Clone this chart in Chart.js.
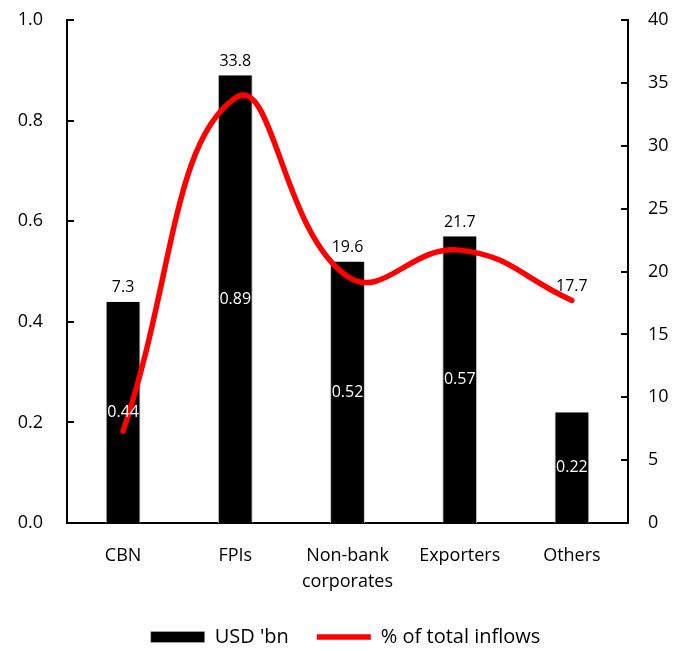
<!DOCTYPE html>
<html>
<head>
<meta charset="utf-8">
<script src="https://cdn.jsdelivr.net/npm/chart.js@4.4.1/dist/chart.umd.min.js"></script>
<style>
    html, body { margin: 0; padding: 0; background: #fff; }
    #wrap { width: 691px; height: 651px; }
</style>
</head>
<body>
<div id="wrap"><canvas id="inflowChart"></canvas></div>
<script>
// Chart data
const categories = ['CBN', 'FPIs', ['Non-bank', 'corporates'], 'Exporters', 'Others'];
const usdBn = [0.44, 0.89, 0.52, 0.57, 0.22];
const shareOfInflows = [7.3, 33.8, 19.6, 21.7, 17.7];
const leftTicks = [0, 0.2, 0.4, 0.6, 0.8, 1.0];
const rightTicks = [0, 5, 10, 15, 20, 25, 30, 35, 40];

const FONT = "'Open Sans', 'Noto Sans', sans-serif";

// Inside tick marks on both value axes
const innerTicks = {
    id: 'innerTicks',
    afterDraw(chart) {
        const ctx = chart.ctx;
        const area = chart.chartArea;
        ctx.save();
        ctx.strokeStyle = '#000';
        ctx.lineWidth = 2;
        chart.scales.y.ticks.forEach((t, i) => {
            const y = Math.round(chart.scales.y.getPixelForTick(i));
            ctx.beginPath();
            ctx.moveTo(area.left, y);
            ctx.lineTo(area.left + 7, y);
            ctx.stroke();
        });
        chart.scales.y1.ticks.forEach((t, i) => {
            const y = Math.round(chart.scales.y1.getPixelForTick(i));
            ctx.beginPath();
            ctx.moveTo(area.right - 7, y);
            ctx.lineTo(area.right, y);
            ctx.stroke();
        });
        ctx.restore();
    }
};

// Value labels: bar values inside bars, percentages above
const valueLabels = {
    id: 'valueLabels',
    afterDatasetsDraw(chart) {
        const ctx = chart.ctx;
        const barMeta = chart.getDatasetMeta(0);
        const lineMeta = chart.getDatasetMeta(1);
        ctx.save();
        ctx.font = '16px ' + FONT;
        ctx.textAlign = 'center';
        ctx.textBaseline = 'middle';
        barMeta.data.forEach((bar, i) => {
            ctx.fillStyle = '#fff';
            ctx.fillText(usdBn[i].toFixed(2), bar.x, (bar.y + bar.base) / 2);
            const pt = lineMeta.data[i];
            const top = Math.min(bar.y, pt.y);
            ctx.fillStyle = '#000';
            ctx.fillText(shareOfInflows[i].toFixed(1), bar.x, top - 14);
        });
        ctx.restore();
    }
};

// keep tick padding from pushing the plot area down
function noEdgePadding(s) {
    s.paddingTop = 0;
    s.paddingBottom = 0;
}

const ctx = document.getElementById('inflowChart').getContext('2d');
new Chart(ctx, {
    type: 'bar',
    data: {
        labels: categories,
        datasets: [{
            label: "USD 'bn",
            data: usdBn,
            backgroundColor: '#000',
            borderColor: '#bdbdbd',
            borderWidth: { left: 1, right: 1, top: 0, bottom: 0 },
            barPercentage: 0.31,
            categoryPercentage: 1,
            pointStyle: 'rect',
            yAxisID: 'y',
            order: 2
        }, {
            type: 'line',
            label: '% of total inflows',
            data: shareOfInflows,
            borderColor: '#ff0000',
            backgroundColor: '#ff0000',
            borderWidth: 5.5,
            borderCapStyle: 'round',
            tension: 0.45,
            pointRadius: 0,
            pointStyle: 'line',
            yAxisID: 'y1',
            order: 1
        }]
    },
    options: {
        responsive: true,
        maintainAspectRatio: false,
        animation: false,
        layout: { padding: { top: 20, bottom: -6, left: 0, right: 0 } },
        plugins: {
            legend: {
                position: 'bottom',
                labels: {
                    sort: (a, b) => a.datasetIndex - b.datasetIndex,
                    usePointStyle: true,
                    pointStyleWidth: 54,
                    boxHeight: 11,
                    padding: 28,
                    color: '#000',
                    font: { family: FONT, size: 20 }
                }
            },
            tooltip: { enabled: false }
        },
        scales: {
            x: {
                grid: { display: false, drawTicks: false },
                border: { color: '#000', width: 2 },
                ticks: {
                    color: '#000',
                    padding: 20,
                    maxRotation: 0,
                    autoSkip: false,
                    font: { family: FONT, size: 18, lineHeight: 1.45 }
                },
                afterFit: (s) => { s.height = 76; }
            },
            y: {
                position: 'left',
                min: 0,
                max: 1,
                afterBuildTicks: (s) => { s.ticks = leftTicks.map(v => ({ value: v })); },
                grid: { display: false, drawTicks: false },
                border: { color: '#000', width: 2 },
                ticks: {
                    color: '#000',
                    padding: 24,
                    callback: (v) => v.toFixed(1),
                    font: { family: FONT, size: 18 }
                },
                afterFit: (s) => { s.width = 67; noEdgePadding(s); }
            },
            y1: {
                position: 'right',
                min: 0,
                max: 40,
                afterBuildTicks: (s) => { s.ticks = rightTicks.map(v => ({ value: v })); },
                grid: { display: false, drawTicks: false },
                border: { color: '#000', width: 2 },
                ticks: {
                    color: '#000',
                    padding: 20,
                    callback: (v) => String(v),
                    font: { family: FONT, size: 18 }
                },
                afterFit: (s) => { s.width = 63; noEdgePadding(s); }
            }
        }
    },
    plugins: [innerTicks, valueLabels]
});
</script>
</body>
</html>
